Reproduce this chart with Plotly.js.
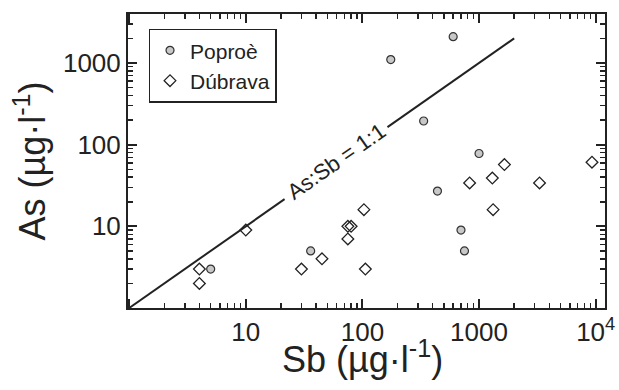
<!DOCTYPE html>
<html>
<head>
<meta charset="utf-8">
<script src="https://cdn.plot.ly/plotly-3.0.1.min.js"></script>
<style>html,body{margin:0;padding:0;background:#fff;}#chart{width:619px;height:390px;}</style>
</head>
<body>
<div id="chart"></div>
<script>
// Poproè samples
var sbPoproc = [5, 36, 175, 600, 335, 1000, 440, 700, 750];
var asPoproc = [3, 5, 1100, 2100, 195, 78, 27, 9, 5];
// Dúbrava samples
var sbDubrava = [4, 4, 10, 30, 45, 75, 80, 75, 103, 106, 830, 1300, 1650, 3300, 9300, 1320];
var asDubrava = [3, 2, 9, 3, 4, 10, 10, 7, 16, 3, 34, 39, 57, 34, 61, 16];
// As:Sb = 1:1 reference line (gap left for its label)
var ratioSb = [1, 21.5, null, 164, 2000];
var ratioAs = [1, 21.5, null, 164, 2000];
// tick label text (decade ticks; label at 1 hidden, 10^4 as power)
var tickAlias = {'1': '', '10000': '10<sup>4</sup>', '10,000': '10<sup>4</sup>', '10k': '10<sup>4</sup>'};

var ink = '#222';
var font = 'Liberation Sans, Arial, Helvetica, sans-serif';
var xRange = [-0.01, 4.08];
var yRange = [0, 3.6];

var traces = [
  {x: ratioSb, y: ratioAs, mode: 'lines', line: {color: ink, width: 2}, showlegend: false, hoverinfo: 'skip'},
  {x: sbPoproc, y: asPoproc, mode: 'markers', name: 'Poproè',
   marker: {symbol: 'circle', size: 8, color: '#c8c8c8', line: {color: '#333', width: 1.2}}},
  {x: sbDubrava, y: asDubrava, mode: 'markers', name: 'Dúbrava',
   marker: {symbol: 'diamond-open', size: 9, color: ink, line: {width: 1.3}}}
];

function mainAxis(extra) {
  return Object.assign({
    type: 'log', showgrid: false, zeroline: false, showline: true, linecolor: ink, linewidth: 2,
    mirror: 'ticks', ticks: 'inside', ticklen: 9, tickwidth: 2, tickcolor: ink,
    dtick: 1, exponentformat: 'none', labelalias: tickAlias,
    tickfont: {family: font, size: 26, color: ink},
    minor: {ticks: 'inside', dtick: 'D1', ticklen: 5, tickwidth: 1.5, tickcolor: ink}
  }, extra);
}

var layout = {
  width: 619, height: 390,
  margin: {l: 128, r: 14, t: 14, b: 82},
  paper_bgcolor: '#fff', plot_bgcolor: '#fff',
  font: {family: font, color: ink},
  xaxis: mainAxis({range: xRange}),
  yaxis: mainAxis({
    range: yRange,
    title: {text: 'As (µg·l<sup>-1</sup>)', font: {family: font, size: 36, color: ink}}
  }),
  showlegend: true,
  legend: {x: 0.043, y: 0.95, xanchor: 'left', yanchor: 'top', bgcolor: '#fff',
           bordercolor: ink, borderwidth: 1.5, font: {family: font, size: 21, color: ink}},
  annotations: [
    {x: 1.774, y: 1.774, xref: 'x', yref: 'y', text: 'As:Sb = 1:1', showarrow: false,
     textangle: -35.1, font: {family: font, size: 22, color: ink}, yshift: 2},
    {x: 0.4916, y: 0, xref: 'paper', yref: 'paper', xanchor: 'center', yanchor: 'middle', yshift: -49,
     text: 'Sb (µg·l<sup>-1</sup>)', showarrow: false, font: {family: font, size: 36, color: ink}}
  ]
};

Plotly.newPlot('chart', traces, layout, {displayModeBar: false, staticPlot: true});
</script>
</body>
</html>
